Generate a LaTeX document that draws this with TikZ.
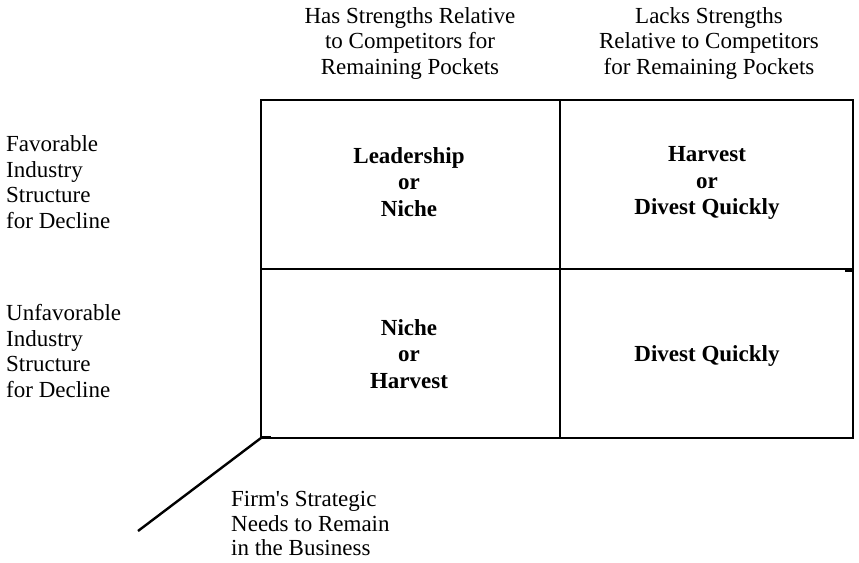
\documentclass[tikz,border=0pt]{standalone}
\usepackage{fontspec}
\setmainfont{Liberation Serif}
\usepackage{tikz}

\begin{document}
\begin{tikzpicture}[x=1pt,y=-1pt]
        \useasboundingbox (0,0) rectangle (859,562);
        \tikzset{lbl/.style={inner sep=0pt, font=\fontsize{23}{25.5}\selectfont},
                 cell/.style={inner sep=0pt, align=center, font=\fontsize{23}{26.5}\selectfont\bfseries},
                 grid line/.style={line width=2.4pt}}

        \coordinate (TL) at (261,100);
        \coordinate (BR) at (853,438);
        \coordinate (BL) at (261,438);
        \draw[grid line] (TL) rectangle (BR);
        \draw[grid line] (560,100) -- (560,438);
        \draw[grid line] (261,269) -- (853,269);
        \draw[grid line] (845,271) -- (853,271);
        \draw[grid line] (261,437) -- (271,437);

        \coordinate (E) at (138,531);
        \draw[grid line] (BL) -- (E);

        \node[lbl, align=center] (H1) at (410,43.5) {Has Strengths Relative\\to Competitors for\\Remaining Pockets};
        \node[lbl, align=center] (H2) at (709,43.5) {Lacks Strengths\\Relative to Competitors\\for Remaining Pockets};

        \node[lbl, align=left, anchor=west] (R1) at (6,182) {Favorable\\Industry\\Structure\\for Decline};
        \node[lbl, align=left, anchor=west] (R2) at (6,351) {Unfavorable\\Industry\\Structure\\for Decline};

        \node[cell] (C11) at (409,182) {Leadership\\or\\Niche};
        \node[cell] (C12) at (707,183) {Harvest\\or\\Divest Quickly};
        \node[cell] (C21) at (409,354) {Niche\\or\\Harvest};
        \node[cell] (C22) at (707,356) {Divest Quickly};

        \node[lbl, align=left, anchor=west, font=\fontsize{23}{24.5}\selectfont] (F) at (231,523.5)
            {Firm\textquotesingle s Strategic\\Needs to Remain\\in the Business};

    \end{tikzpicture}
\end{document}
